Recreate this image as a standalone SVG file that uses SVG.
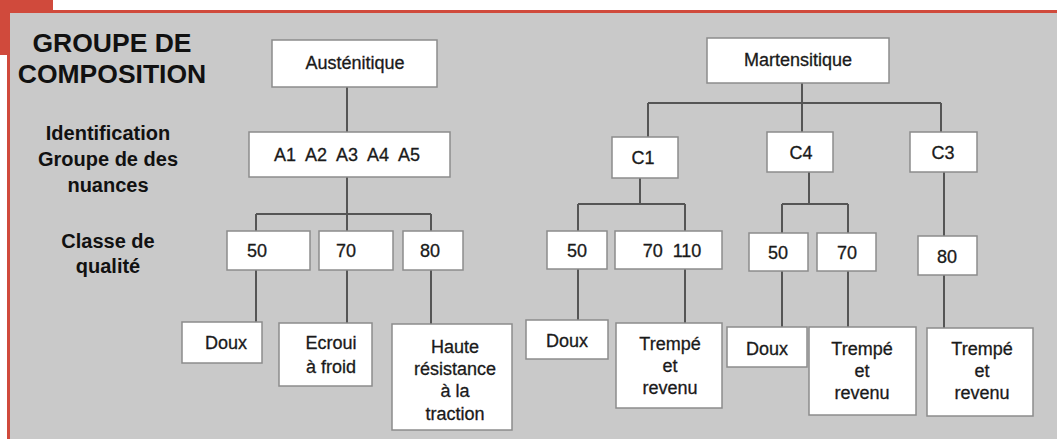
<svg xmlns="http://www.w3.org/2000/svg" width="1057" height="439" viewBox="0 0 1057 439">
<style>
.bx{fill:#fff;stroke:#8c8c8c;stroke-width:1.5}
.t{font-family:"Liberation Sans",Arial,sans-serif;font-size:18px;fill:#1a1a1a;stroke:#1a1a1a;stroke-width:0.3;text-anchor:middle}
.lb{font-family:"Liberation Sans",Arial,sans-serif;font-weight:bold;font-size:20px;fill:#111;text-anchor:middle}
.ttl{font-family:"Liberation Sans",Arial,sans-serif;font-weight:bold;font-size:26.5px;fill:#111;text-anchor:middle}
.ln{fill:none;stroke:#555;stroke-width:2}
</style>
<rect x="0" y="0" width="1057" height="439" fill="#fff"/>
<rect x="0" y="0" width="53" height="55" fill="#d04a3c"/>
<rect x="7" y="10" width="1050" height="3" fill="#d04a3c"/>
<rect x="7" y="10" width="3" height="429" fill="#d04a3c"/>
<rect x="10" y="13" width="1047" height="426" fill="#c9c9c9"/>
<g id="labels">
<text class="ttl" x="112" y="52">GROUPE DE</text>
<text class="ttl" x="112" y="83">COMPOSITION</text>
<text class="lb" x="108" y="140">Identification</text>
<text class="lb" x="108" y="166">Groupe de des</text>
<text class="lb" x="108" y="192">nuances</text>
<text class="lb" x="108" y="248">Classe de</text>
<text class="lb" x="108" y="273">qualité</text>
</g>
<g id="connectors">
<path class="ln" d="M347 87V132M347 177V214M256 214H431M256 214V231M431 214V231M347 214V231"/>
<path class="ln" d="M256 270V322M347 270V323M431 270V324"/>
<path class="ln" d="M802 83V103M648 103H941M648 103V137M802 103V132M941 103V132"/>
<path class="ln" d="M640 178V204M578 204H685M578 204V231M685 204V231"/>
<path class="ln" d="M809 172V204M782 204H848M782 204V233M848 204V233"/>
<path class="ln" d="M944 172V236"/>
<path class="ln" d="M578 269V320M685 269V323M782 271V327M848 271V327M944 275V328"/>
</g>
<g id="austenitique"><rect class="bx" x="272" y="40" width="165" height="47"/><text class="t" x="355" y="69">Austénitique</text></g>
<g id="a-groupe"><rect class="bx" x="249" y="132" width="201" height="45"/><text class="t" x="347" y="161" xml:space="preserve">A1  A2  A3  A4  A5</text></g>
<g id="a50"><rect class="bx" x="227" y="231" width="83" height="39"/><text class="t" x="257" y="257">50</text></g>
<g id="a70"><rect class="bx" x="319" y="231" width="74" height="39"/><text class="t" x="346" y="257">70</text></g>
<g id="a80"><rect class="bx" x="403" y="231" width="60" height="39"/><text class="t" x="430" y="257">80</text></g>
<g id="a-doux"><rect class="bx" x="182" y="322" width="80" height="41"/><text class="t" x="226" y="349">Doux</text></g>
<g id="a-ecroui"><rect class="bx" x="279" y="323" width="93" height="63"/><text class="t" x="331" y="349">Ecroui</text><text class="t" x="331" y="373">à froid</text></g>
<g id="a-haute"><rect class="bx" x="392" y="324" width="120" height="106"/><text class="t" x="455" y="353">Haute</text><text class="t" x="455" y="375">résistance</text><text class="t" x="455" y="397">à la</text><text class="t" x="455" y="420">traction</text></g>
<g id="martensitique"><rect class="bx" x="707" y="38" width="182" height="45"/><text class="t" x="798" y="66">Martensitique</text></g>
<g id="c1"><rect class="bx" x="612" y="137" width="66" height="41"/><text class="t" x="643" y="164">C1</text></g>
<g id="c4"><rect class="bx" x="767" y="132" width="66" height="40"/><text class="t" x="801" y="159">C4</text></g>
<g id="c3"><rect class="bx" x="910" y="132" width="67" height="40"/><text class="t" x="943" y="159">C3</text></g>
<g id="c1-50"><rect class="bx" x="547" y="231" width="60" height="38"/><text class="t" x="577" y="257">50</text></g>
<g id="c1-70110"><rect class="bx" x="615" y="231" width="107" height="38"/><text class="t" x="672" y="257" xml:space="preserve">70  110</text></g>
<g id="c4-50"><rect class="bx" x="749" y="233" width="59" height="38"/><text class="t" x="778" y="259">50</text></g>
<g id="c4-70"><rect class="bx" x="817" y="233" width="59" height="38"/><text class="t" x="847" y="259">70</text></g>
<g id="c3-80"><rect class="bx" x="918" y="236" width="59" height="39"/><text class="t" x="947" y="263">80</text></g>
<g id="c1-doux"><rect class="bx" x="526" y="320" width="82" height="39"/><text class="t" x="567" y="347">Doux</text></g>
<g id="c1-trempe"><rect class="bx" x="616" y="323" width="106" height="85"/><text class="t" x="670" y="350">Trempé</text><text class="t" x="670" y="372">et</text><text class="t" x="670" y="394">revenu</text></g>
<g id="c4-doux"><rect class="bx" x="727" y="327" width="80" height="40"/><text class="t" x="767" y="355">Doux</text></g>
<g id="c4-trempe"><rect class="bx" x="809" y="327" width="107" height="88"/><text class="t" x="862" y="355">Trempé</text><text class="t" x="862" y="377">et</text><text class="t" x="862" y="399">revenu</text></g>
<g id="c3-trempe"><rect class="bx" x="927" y="328" width="106" height="88"/><text class="t" x="982" y="355">Trempé</text><text class="t" x="982" y="377">et</text><text class="t" x="982" y="399">revenu</text></g>
</svg>
